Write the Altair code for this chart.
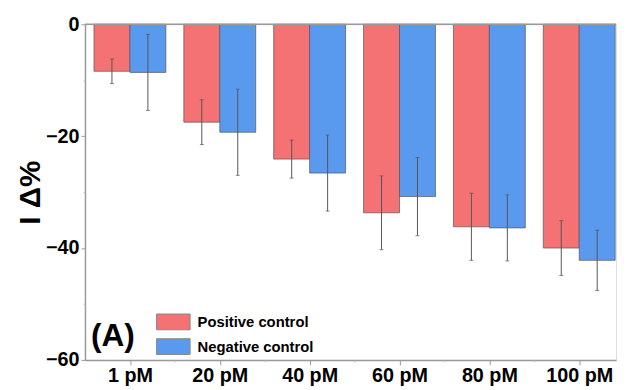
import json
import altair as alt
import pandas as pd

categories = ["1 pM", "20 pM", "40 pM", "60 pM", "80 pM", "100 pM"]
series = ["Positive control", "Negative control"]
positive_mean = [-8.4, -17.5, -24.1, -33.7, -36.2, -40.0]
positive_err = [2.2, 4.0, 3.4, 6.6, 6.0, 4.9]
negative_mean = [-8.6, -19.3, -26.6, -30.8, -36.4, -42.2]
negative_err = [6.8, 7.7, 6.8, 7.0, 5.9, 5.4]
colors = ["#F47174", "#5A9AEE"]
y_ticks = [0, -20, -40, -60]
y_minor = [-10, -30, -50]

rows = []
for i, cat in enumerate(categories):
    rows.append({"category": cat, "pos": i + 1, "series": series[0],
                 "mean": positive_mean[i], "err": positive_err[i]})
    rows.append({"category": cat, "pos": i + 1, "series": series[1],
                 "mean": negative_mean[i], "err": negative_err[i]})
df = pd.DataFrame(rows)

FONT = "Liberation Sans"
xscale = alt.Scale(domain=[0.5, 6.41], nice=False, zero=False)
yscale = alt.Scale(domain=[-60, 0], nice=False, zero=False)
label_expr = json.dumps(categories) + "[round(datum.value) - 1]"

base = alt.Chart(df).transform_calculate(
    x0=f"datum.pos + (datum.series == '{series[0]}' ? -0.4 : 0)"
).transform_calculate(
    x1="datum.x0 + 0.4", xc="datum.x0 + 0.2",
    lo="datum.mean - datum.err", hi="datum.mean + datum.err", zero="0"
)

bars = base.mark_bar(stroke="#555", strokeWidth=1, strokeOpacity=0.7).encode(
    x=alt.X("x0:Q", scale=xscale, axis=alt.Axis(
        values=[1, 2, 3, 4, 5, 6], labelExpr=label_expr, title=None, grid=False,
        tickSize=5, tickColor="#999", domainColor="#999", domainWidth=1.5,
        labelFont=FONT, labelFontWeight="bold", labelFontSize=20, labelColor="black",
        labelPadding=1, labelFlush=False)),
    x2="x1:Q",
    y=alt.Y("zero:Q", scale=yscale, axis=alt.Axis(
        values=y_ticks, title="I \u0394%", grid=False, tickSize=4, tickColor="#999",
        domainColor="#999", domainWidth=1.5, labelFont=FONT, labelFontWeight="bold",
        labelFontSize=20, labelColor="black", labelPadding=2,
        titleFont=FONT, titleFontWeight="bold", titleFontSize=30, titleColor="black",
        titleX=-46, titleY=170, titleAngle=-90, titleAlign="center",
        titleBaseline="alphabetic")),
    y2="mean:Q",
    color=alt.Color("series:N", scale=alt.Scale(domain=series, range=colors),
                    sort=series,
                    legend=alt.Legend(
                        title=None, orient="none", legendX=81, legendY=293,
                        symbolType="M-2.125,-1H2.125V1H-2.125Z", symbolSize=256,
                        symbolStrokeColor="#888", symbolStrokeWidth=1, symbolOpacity=1,
                        labelFont=FONT, labelFontWeight="bold", labelFontSize=15,
                        labelColor="black", labelOffset=16, rowPadding=4, padding=0)),
)

err_rule = base.mark_rule(color="#555", strokeWidth=1).encode(
    x=alt.X("xc:Q", scale=xscale, axis=alt.Axis(
        values=[1.5, 2.5, 3.5, 4.5, 5.5], labels=False, domain=False, ticks=True,
        tickSize=2, tickColor="#bbb", grid=False, title=None, orient="bottom")),
    y=alt.Y("lo:Q", scale=yscale, axis=alt.Axis(
        values=y_minor, labels=False, domain=False, ticks=True, tickSize=2,
        tickColor="#bbb", grid=False, title=None, orient="left")),
    y2="hi:Q",
)

cap_lo = base.mark_tick(color="#555", orient="horizontal", size=4, thickness=1).encode(
    x=alt.X("xc:Q", scale=xscale, axis=None),
    y=alt.Y("lo:Q", scale=yscale, axis=None),
)
cap_hi = base.mark_tick(color="#555", orient="horizontal", size=4, thickness=1).encode(
    x=alt.X("xc:Q", scale=xscale, axis=None),
    y=alt.Y("hi:Q", scale=yscale, axis=None),
)

top_line = alt.Chart(pd.DataFrame({"v": [0]})).mark_rule(
    color="#999", strokeWidth=1.5).encode(
    y=alt.Y("v:Q", scale=yscale, axis=None))

panel = alt.Chart(pd.DataFrame({"t": ["(A)"]})).mark_text(
    font=FONT, fontWeight="bold", fontSize=32, color="black",
    align="left", baseline="alphabetic").encode(
    text="t:N", x=alt.value(6), y=alt.value(326))

chart = alt.layer(bars, err_rule, cap_lo, cap_hi, top_line, panel).resolve_axis(
    x="independent", y="independent"
).properties(
    width=538, height=340,
    autosize=alt.AutoSizeParams(type="none"),
    padding={"left": 78, "top": 14, "right": 5, "bottom": 30},
).configure_view(stroke=None).configure(background="white")

chart.save("out.html", embed_options={"renderer": "svg", "actions": False})
